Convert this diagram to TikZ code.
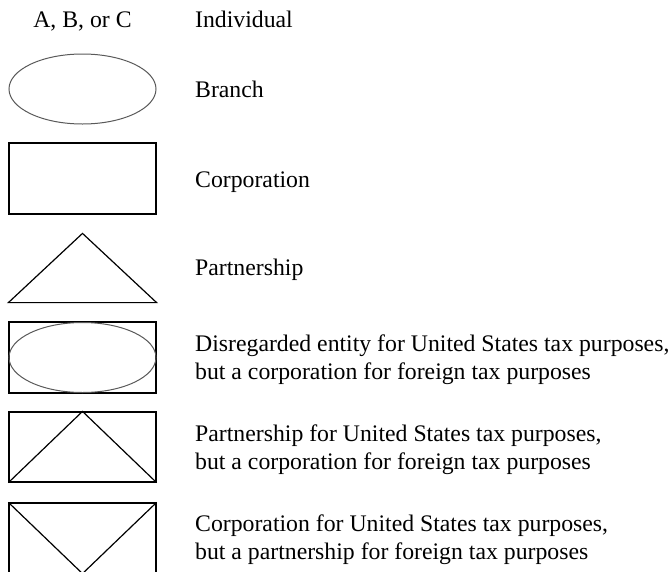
\documentclass[tikz,border=0pt]{standalone}
\usepackage{fontspec}
\setmainfont{Liberation Serif}
\usetikzlibrary{positioning,shapes.geometric}
\tikzset{
  entbox/.style={rectangle, draw, line width=1.2pt, minimum width=147pt, minimum height=70pt, inner sep=0pt},
  entoval/.style={ellipse, draw=black!65, line width=1pt, minimum width=147pt, minimum height=70pt, inner sep=0pt},
  entline/.style={line width=1.2pt, line join=miter},
  lbl/.style={font=\fontsize{23.75}{27.5}\selectfont, inner sep=0pt, align=left},
}
\begin{document}
\begin{tikzpicture}[x=1pt, y=-1pt]
\useasboundingbox (0,0) rectangle (672,571);
% symbols
\node[lbl, anchor=base] (indiv) at (82.5,27) {A, B, or C};
\node[entoval] (branch) at (82.5,89) {};
\node[entbox, minimum height=71pt] (corp) at (82.5,178.5) {};
\node[entbox, draw=none, minimum height=68pt] (part) at (82.5,268) {};
\draw[entline] (part.south west) -- (part.north) -- (part.south east) -- cycle;
\node[entbox, minimum height=71pt] (dre) at (82.5,357.5) {};
\node[entoval] (dreoval) at (dre.center) {};
\node[entbox] (pship) at (82.5,447) {};
\draw[entline] (pship.south west) -- (pship.north) -- (pship.south east);
\node[entbox] (cship) at (82.5,538) {};
\draw[entline] (cship.north west) -- (cship.south) -- (cship.north east);
% labels (base = last line)
\node[lbl, anchor=base west] (indivlbl) at (195,27) {Individual};
\node[lbl, anchor=base west] (branchlbl) at (195,97) {Branch};
\node[lbl, anchor=base west] (corplbl) at (195,187) {Corporation};
\node[lbl, anchor=base west] (partlbl) at (195,275) {Partnership};
\node[lbl, anchor=base west] (drelbl) at (195,379) {Disregarded entity for United States tax purposes,\\but a corporation for foreign tax purposes};
\node[lbl, anchor=base west] (pshiplbl) at (195,469) {Partnership for United States tax purposes,\\but a corporation for foreign tax purposes};
\node[lbl, anchor=base west] (cshiplbl) at (195,559) {Corporation for United States tax purposes,\\but a partnership for foreign tax purposes};
\end{tikzpicture}
\end{document}
